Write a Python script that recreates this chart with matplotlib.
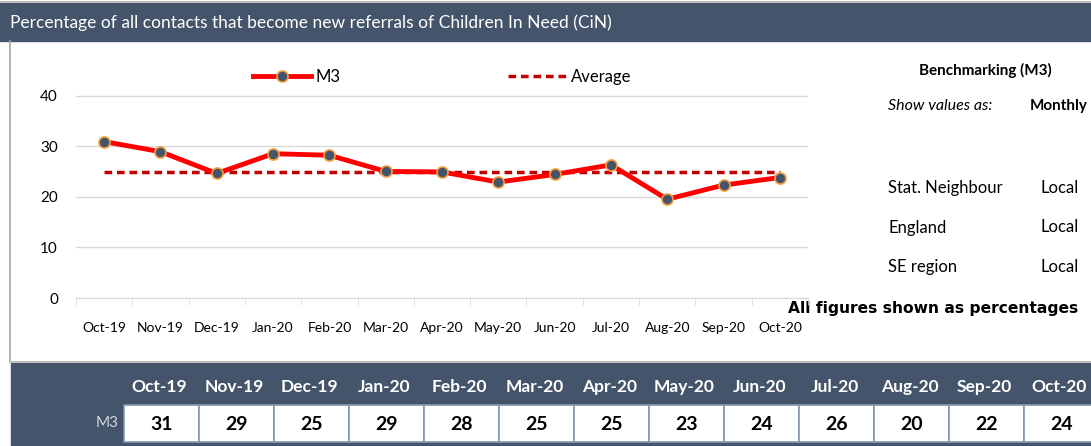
import matplotlib
matplotlib.use('Agg')
import matplotlib.pyplot as plt
from matplotlib.patches import Rectangle

plt.rcParams['font.family'] = ['Lato', 'DejaVu Sans']

# data
months = ['Oct-19', 'Nov-19', 'Dec-19', 'Jan-20', 'Feb-20', 'Mar-20', 'Apr-20',
          'May-20', 'Jun-20', 'Jul-20', 'Aug-20', 'Sep-20', 'Oct-20']
m3 = [30.9, 28.9, 24.6, 28.5, 28.2, 25.0, 24.9, 22.9, 24.4, 26.3, 19.5, 22.3, 23.8]
m3_table = [31, 29, 25, 29, 28, 25, 25, 23, 24, 26, 20, 22, 24]
average = 24.8
bench_rows = ['Stat. Neighbour', 'England', 'SE region']
bench_vals = ['Local', 'Local', 'Local']

dark = '#44546A'
W, H = 1091, 446
fig = plt.figure(figsize=(W / 100, H / 100), dpi=100)

# background layer in pixel coords
bg = fig.add_axes([0, 0, 1, 1])
bg.set_xlim(0, W)
bg.set_ylim(H, 0)
bg.axis('off')
bg.add_patch(Rectangle((0, 3), W, 38, color=dark))
bg.plot([0, W], [2, 2], color='#C0C0C0', lw=1.5)
bg.text(10, 23, 'Percentage of all contacts that become new referrals of Children In Need (CiN)',
        color='white', fontsize=12.5, va='center', ha='left')
bg.plot([10, 10], [41, 362], color='#A6A6A6', lw=1.2)
bg.add_patch(Rectangle((11, 362), W, H - 362, color=dark))
bg.plot([10, W], [362, 362], color='#BFBFBF', lw=1.5)

# bottom table
x0, cw = 124, 75
for i, (m, v) in enumerate(zip(months, m3_table)):
    cx = x0 + cw * (i + 0.5)
    bg.text(cx - 2, 387, m, color='white', fontsize=12.5, fontweight='bold',
            ha='center', va='center')
    bg.add_patch(Rectangle((x0 + cw * i, 405), cw, 37, facecolor='white',
                           edgecolor='#8497B0', lw=1.2))
    bg.text(cx, 424, str(v), color='black', fontsize=14, fontweight='bold',
            ha='center', va='center')
bg.text(119, 423, 'M3', color='#D0D5DD', fontsize=11, ha='right', va='center')

# benchmarking panel
bg.text(985, 70, 'Benchmarking (M3)', fontsize=11, fontweight='bold', ha='center', va='center')
bg.text(888, 106, 'Show values as:', fontsize=11.5, style='italic', ha='left', va='center')
bg.text(1088, 106, 'Monthly', fontsize=11, fontweight='bold', ha='right', va='center')
for i, (r, v) in enumerate(zip(bench_rows, bench_vals)):
    y = 188 + i * 39.5
    bg.text(888, y, r, fontsize=12, ha='left', va='center')
    bg.text(1040, y, v, fontsize=12, ha='left', va='center')
bg.text(1078, 308, 'All figures shown as percentages', fontsize=11.2,
        fontweight='bold', family=['DejaVu Sans'],
        ha='right', va='center')

# main chart
ax = fig.add_axes([76 / W, (H - 298) / H, 732 / W, 243 / H])
x = list(range(len(months)))
ax.plot(x, m3, color='#FF0000', lw=3.5, marker='o', markersize=8,
        markerfacecolor=dark, markeredgecolor='#F4A040', markeredgewidth=1.2,
        label='M3', zorder=3)
ax.plot([x[0], x[-1]], [average, average], color='#C00000', lw=2.5,
        ls=(0, (2.2, 1.4)), label='Average', zorder=2)
ax.set_xlim(-0.5, len(months) - 0.5)
ax.set_ylim(0, 48)
ax.set_yticks([0, 10, 20, 30, 40])
ax.grid(axis='y', color='#D9D9D9', lw=1)
ax.set_axisbelow(True)
for s in ['top', 'right', 'left']:
    ax.spines[s].set_visible(False)
ax.spines['bottom'].set_color('#D9D9D9')
ax.set_xticks(x)
ax.set_xticklabels(months, fontsize=10)
ax.set_xticks([i - 0.5 for i in range(len(months) + 1)], minor=True)
ax.tick_params(axis='x', which='major', length=0, pad=17)
ax.tick_params(axis='x', which='minor', length=5, color='#D9D9D9')
ax.tick_params(axis='y', length=0, labelsize=11, pad=13)
ax.patch.set_alpha(0)
ax.legend(loc='center', bbox_to_anchor=(0.5, 0.91), ncol=2, frameon=False,
          fontsize=12, columnspacing=10, handlelength=3.5, handletextpad=0.3)

fig.savefig('out.png', dpi=100)
